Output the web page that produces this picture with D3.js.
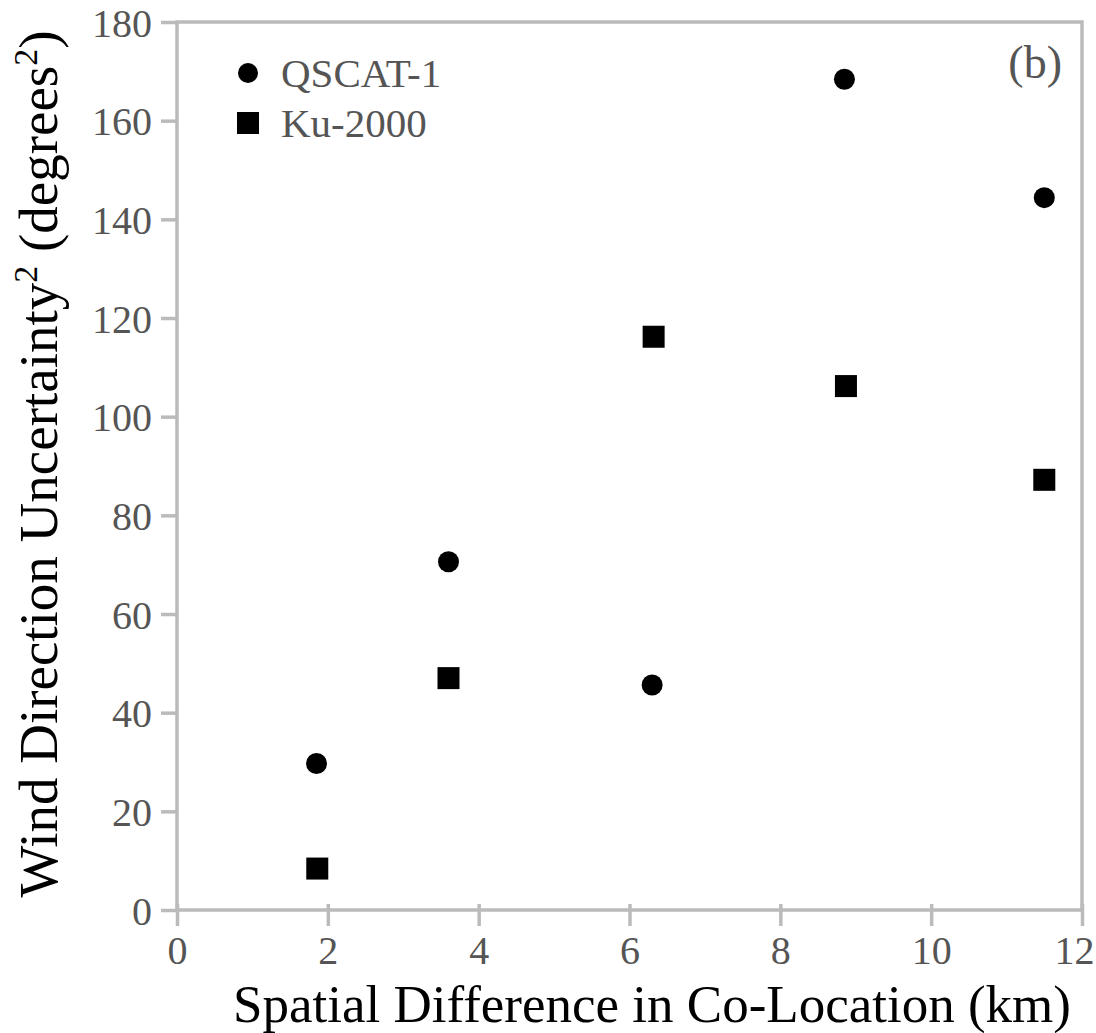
<!doctype html>
<html lang="en">
    <head>
        <meta charset="UTF-8">
        <title>d3 - Wind direction uncertainty</title>
        <style>
            body { margin: 0; background: #fff; }
            svg text { font-family: "Liberation Serif", "DejaVu Serif", serif; }
        </style>
    </head>
    <body>
        <script src="https://d3js.org/d3.v7.min.js"></script>
        <script>
            var width = 1096,
                height = 1033;

            // chart values
            var xTicks = [0, 2, 4, 6, 8, 10, 12];
            var yTicks = [0, 20, 40, 60, 80, 100, 120, 140, 160, 180];

            var qscatX = [1.85, 3.6, 6.3, 8.85, 11.5];
            var qscatY = [29.7, 70.6, 45.6, 168.4, 144.4];

            var kuX = [1.86, 3.6, 6.32, 8.87, 11.5];
            var kuY = [8.4, 47.0, 116.2, 106.2, 87.2];

            var seriesNames = ["QSCAT-1", "Ku-2000"];

            var x = d3.scaleLinear().domain([0, 12]).range([177, 1082]);
            var y = d3.scaleLinear().domain([0, 180]).range([910, 22]);

            var svg = d3.select("body").append("svg")
                .attr("width", width)
                .attr("height", height);

            var axisColor = "#bbb",
                labelColor = "#555";

            // frame
            svg.append("rect")
                .attr("x", x(0))
                .attr("y", y(180))
                .attr("width", x(12) - x(0))
                .attr("height", y(0) - y(180))
                .attr("fill", "none")
                .attr("stroke", axisColor)
                .attr("stroke-width", 3.5);

            // x axis
            var gx = svg.append("g")
                .attr("transform", "translate(0," + y(0) + ")")
                .call(d3.axisBottom(x).tickValues(xTicks).tickSizeInner(16).tickSizeOuter(0).tickPadding(10).tickFormat(d3.format("d")));
            gx.select(".domain").remove();
            gx.selectAll(".tick line")
                .attr("y1", -6)
                .attr("stroke", axisColor)
                .attr("stroke-width", 3.5);
            gx.selectAll(".tick text")
                .attr("fill", labelColor)
                .style("font-size", "40px");
            // last label sits tight against the right edge, as in the original
            gx.selectAll(".tick text")
                .filter(function(d) { return d === 12; })
                .attr("text-anchor", "end")
                .attr("x", 1094 - x(12));

            // y axis
            var gy = svg.append("g")
                .attr("transform", "translate(" + x(0) + ",0)")
                .call(d3.axisLeft(y).tickValues(yTicks).tickSizeInner(16).tickSizeOuter(0).tickPadding(9).tickFormat(d3.format("d")));
            gy.select(".domain").remove();
            gy.selectAll(".tick line")
                .attr("stroke", axisColor)
                .attr("stroke-width", 3.5);
            gy.selectAll(".tick text")
                .attr("fill", labelColor)
                .attr("dy", "0.35em")
                .style("font-size", "40px");

            // axis titles
            svg.append("text")
                .attr("x", 652)
                .attr("y", 1022)
                .attr("text-anchor", "middle")
                .attr("fill", "#000")
                .style("font-size", "53px")
                .text("Spatial Difference in Co-Location (km)");

            var yt = svg.append("text")
                .attr("transform", "translate(57,464)rotate(-90)")
                .attr("text-anchor", "middle")
                .attr("fill", "#000")
                .style("font-size", "55px");
            yt.append("tspan").text("Wind Direction Uncertainty");
            yt.append("tspan").attr("dy", "-20").style("font-size", "34px").text("2");
            yt.append("tspan").attr("dy", "20").text(" (degrees");
            yt.append("tspan").attr("dy", "-20").style("font-size", "34px").text("2");
            yt.append("tspan").attr("dy", "20").text(")");

            // points
            var qscat = qscatX.map(function(d, i) { return { x: d, y: qscatY[i] }; });
            var ku = kuX.map(function(d, i) { return { x: d, y: kuY[i] }; });

            svg.append("g").selectAll("circle")
                .data(qscat)
                .enter()
                .append("circle")
                    .attr("cx", function(d) { return x(d.x); })
                    .attr("cy", function(d) { return y(d.y); })
                    .attr("r", 10.5)
                    .attr("fill", "#000");

            svg.append("g").selectAll("rect")
                .data(ku)
                .enter()
                .append("rect")
                    .attr("x", function(d) { return x(d.x) - 11; })
                    .attr("y", function(d) { return y(d.y) - 11; })
                    .attr("width", 22)
                    .attr("height", 22)
                    .attr("fill", "#000");

            // legend
            var legend = svg.append("g").attr("transform", "translate(248,73)");
            legend.append("circle")
                .attr("cx", 0).attr("cy", 0).attr("r", 10)
                .attr("fill", "#000");
            legend.append("rect")
                .attr("x", -11).attr("y", 39).attr("width", 22).attr("height", 22)
                .attr("fill", "#000");
            legend.selectAll("text")
                .data(seriesNames)
                .enter()
                .append("text")
                    .attr("x", 33)
                    .attr("y", function(d, i) { return i * 50; })
                    .attr("dy", "0.35em")
                    .attr("fill", labelColor)
                    .style("font-size", "41px")
                    .text(function(d) { return d; });

            // panel label
            svg.append("text")
                .attr("x", 1062)
                .attr("y", 78)
                .attr("text-anchor", "end")
                .attr("fill", labelColor)
                .style("font-size", "46px")
                .text("(b)");
        </script>
    </body>
</html>
